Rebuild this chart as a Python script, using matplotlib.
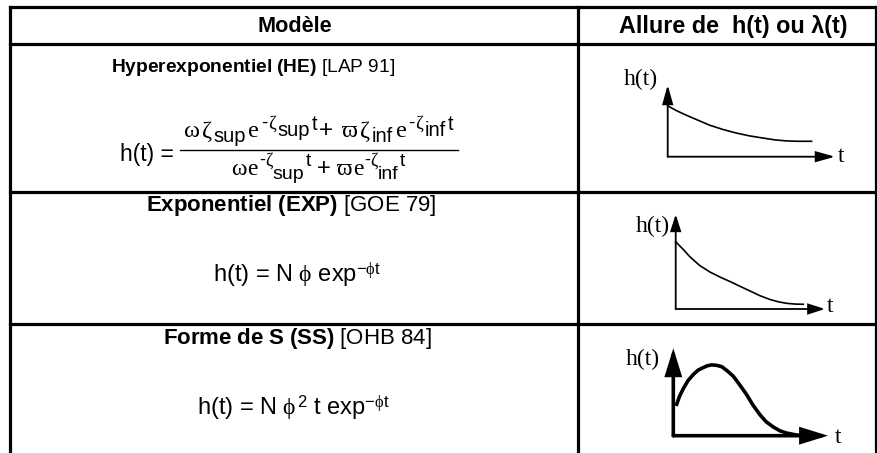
import matplotlib
matplotlib.use("Agg")
import matplotlib.pyplot as plt

# ---------------- data ----------------
header_labels = ["Modèle", "Allure de  h(t) ou λ(t)"]
model_names = ["Hyperexponentiel (HE)", "Exponentiel (EXP)", "Forme de S (SS)"]
model_refs = ["[LAP 91]", "[GOE 79]", "[OHB 84]"]

he_lhs = "h(t) ="
exp_formula = r"h(t) = N $\phi$ $\mathrm{exp}^{-\phi\mathrm{t}}$"
ss_formula = r"h(t) = N $\phi^{2}$ t $\mathrm{exp}^{-\phi\mathrm{t}}$"

sketch_ylabel = "h(t)"
sketch_xlabel = "t"

# curve shapes (t and h on a 0..10 scale of each sketch's axes)
he_t = [0.0, 0.5, 1.1, 1.8, 2.5, 3.3, 4.1, 4.9, 5.7, 6.4, 7.1, 7.8, 8.6]
he_h = [7.1, 6.45, 5.8, 5.1, 4.4, 3.8, 3.3, 2.9, 2.6, 2.35, 2.2, 2.15, 2.15]

exp_t = [0.0, 0.5, 0.96, 1.6, 2.3, 3.0, 3.64, 4.3, 4.98, 5.65, 6.32, 6.9, 7.43, 8.0, 8.55]
exp_h = [7.1, 6.3, 5.5, 4.6, 3.9, 3.35, 2.9, 2.4, 1.9, 1.4, 1.0, 0.75, 0.6, 0.52, 0.5]

ss_t = [0.22, 0.4, 0.65, 0.95, 1.29, 1.6, 1.94, 2.2, 2.48, 2.8, 3.13, 3.5, 3.88,
        4.3, 4.74, 5.15, 5.6, 6.0, 6.46, 6.9, 7.33, 7.9, 8.4]
ss_h = [3.6, 4.5, 5.4, 6.3, 7.0, 7.5, 7.8, 8.0, 8.1, 8.05, 7.9, 7.4, 6.8,
        5.8, 4.7, 3.5, 2.4, 1.6, 1.0, 0.55, 0.3, 0.1, 0.0]

# ---------------- style ----------------
plt.rcParams["mathtext.fontset"] = "custom"
plt.rcParams["mathtext.rm"] = "Liberation Sans"
plt.rcParams["mathtext.it"] = "Liberation Serif"
plt.rcParams["mathtext.bf"] = "Liberation Sans:bold"
plt.rcParams["mathtext.sf"] = "Liberation Sans"
SANS = "Liberation Sans"
SERIF = ["Liberation Serif", "DejaVu Serif"]

W, H = 877, 453
fig = plt.figure(figsize=(W / 100, H / 100), dpi=100)
ax = fig.add_axes([0, 0, 1, 1])
ax.set_xlim(0, W)
ax.set_ylim(H, 0)
ax.axis("off")
renderer = fig.canvas.get_renderer()

# ---------------- table grid ----------------
left, mid, right = 10, 578, 875.5
top, hdr, r1, r2, bottom = 7, 44, 192, 324, 460
grid_lw = 2.3
for y in [top, hdr, r1, r2]:
    ax.plot([left, right], [y, y], color="black", lw=grid_lw, solid_capstyle="projecting")
for x in [left, mid, right]:
    ax.plot([x, x], [top, bottom], color="black", lw=grid_lw, solid_capstyle="projecting")

# ---------------- header ----------------
ax.text(294.5, 32, header_labels[0], ha="center", va="baseline",
        fontsize=15.6, fontweight="bold", family=SANS)
ax.text(733.5, 33, header_labels[1], ha="center", va="baseline",
        fontsize=16.8, fontweight="bold", family=SANS)

# ---------------- model titles ----------------
# (x, baseline, fontsize, horizontal alignment)
title_pos = [(111, 72, 13.8, "left"), (291.5, 210.5, 16, "center"),
             (297.5, 344, 16, "center")]
for (x, y, fs, ha), name, ref in zip(title_pos, model_names, model_refs):
    s = r"$\mathbf{" + name.replace(" ", r"\ ") + "}$ " + ref
    ax.text(x, y, s, ha=ha, va="baseline", fontsize=fs, family=SANS)


# ---------------- HE fraction (piecewise layout) ----------------
def place_run(xc, yb, segs):
    items = []
    total = 0.0
    for seg in segs:
        if isinstance(seg, (int, float)):
            items.append((None, seg))
            total += seg
            continue
        s, fam, size, dy = seg
        t = ax.text(0, yb - dy, s, family=fam, fontsize=size, ha="left", va="baseline")
        w = t.get_window_extent(renderer).width
        items.append((t, w))
        total += w
    x = xc - total / 2
    for t, w in items:
        if t is not None:
            t.set_x(x)
        x += w


M, S, Z = 17.5, 14.5, 13.5
num_segs = [("ω", SERIF, M, 0), 2, ("ζ", SERIF, M, 0), 1.5, ("sup", SANS, S, -5), 2.5,
            ("e", SERIF, M, 0), 2, ("-", SANS, Z, 9), 0.5, ("ζ", SERIF, Z, 8), 1.5,
            ("sup", SANS, S, 1), 2, ("t", SANS, S, 7), 2, ("+", SANS, M, 0), 9,
            ("ϖ", SERIF, M, 0), 2, ("ζ", SERIF, M, 0), 1.5, ("inf", SANS, S, -5), 2.5,
            ("e", SERIF, M, 0), 2, ("-", SANS, Z, 9), 0.5, ("ζ", SERIF, Z, 8), 1.5,
            ("inf", SANS, S, 1), 2, ("t", SANS, S, 7)]
M2, S2, Z2 = 17, 14, 13
den_segs = [("ω", SERIF, M2, 0), 1, ("e", SERIF, M2, 0), 1, ("-", SANS, Z2, 10),
            ("ζ", SERIF, Z2, 9), 0.5, ("sup", SANS, S2, -4), 1, ("t", SANS, S2, 9), 6,
            ("+", SANS, M2, 0), 6, ("ϖ", SERIF, M2, 0), 1, ("e", SERIF, M2, 0), 1,
            ("-", SANS, Z2, 10), ("ζ", SERIF, Z2, 9), 0.5, ("inf", SANS, S2, -4), 1,
            ("t", SANS, S2, 9)]

ax.text(120, 160.7, he_lhs, ha="left", va="baseline", fontsize=16.5, family=SANS)
ax.plot([180, 458], [150, 150], color="black", lw=1.0)
place_run(318.5, 137, num_segs)
place_run(318, 175, den_segs)

# ---------------- other formulas ----------------
ax.text(297.5, 282, exp_formula, ha="center", va="baseline", fontsize=17, family=SANS)
ax.text(293.5, 415, ss_formula, ha="center", va="baseline", fontsize=17, family=SANS)

# ---------------- sketches ----------------
sketches = [
    (667.7, 156.7, 835, 85, 1.3, 1.2, 16, 4.5, he_t, he_h, (658, 85), (838, 161.7)),
    (675.7, 309, 825, 214.3, 1.3, 1.2, 14, 4.5, exp_t, exp_h, (670, 231.7), (827, 311.7)),
    (673.3, 435.7, 828, 348.3, 2.6, 2.6, 21, 6.5, ss_t, ss_h, (660, 365), (835, 443)),
]
px_per_pt = 100 / 72
for (ox, oy, xt, yt, alw, clw, hl, hw, ts, hs, ylab, xlab) in sketches:
    sax = fig.add_axes([ox / W, 1 - oy / H, (xt - ox) / W, (oy - yt) / H])
    sax.set_xlim(0, 10)
    sax.set_ylim(0, 10)
    sax.axis("off")
    ms = 10
    style = "-|>,head_length=%.3f,head_width=%.3f" % (hl / (ms * px_per_pt), hw / (ms * px_per_pt))
    for tip in [(1, 0), (0, 1)]:
        sax.annotate("", xy=tip, xytext=(0, 0), xycoords="axes fraction",
                     textcoords="axes fraction",
                     arrowprops=dict(arrowstyle=style, lw=alw, color="black",
                                     shrinkA=0, shrinkB=0, mutation_scale=ms,
                                     joinstyle="miter"))
    sax.plot(ts, hs, color="black", lw=clw, clip_on=False, solid_joinstyle="round")
    ax.text(ylab[0], ylab[1], sketch_ylabel, ha="right", va="baseline",
            fontsize=17, family=SERIF)
    ax.text(xlab[0], xlab[1], sketch_xlabel, ha="left", va="baseline",
            fontsize=17, family=SERIF)

fig.savefig("out.png", dpi=100)
